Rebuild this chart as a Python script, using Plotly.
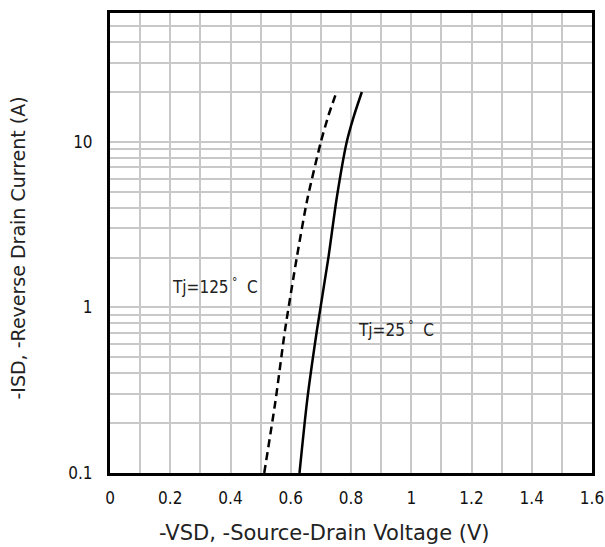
import plotly.graph_objects as go
import numpy as np

# 25 C curve (solid)
i_25 = [0.1, 0.27, 0.73, 2.0, 4.5, 10, 14.4, 20]
v_25 = [0.629, 0.654, 0.687, 0.725, 0.752, 0.786, 0.810, 0.836]
# 125 C curve (dashed)
i_125 = [0.1, 0.27, 0.73, 2.0, 4.5, 10, 14.4, 20]
v_125 = [0.512, 0.549, 0.581, 0.620, 0.655, 0.700, 0.725, 0.752]

x_ticks = [0, 0.2, 0.4, 0.6, 0.8, 1.0, 1.2, 1.4, 1.6]
x_tick_text = ["0", "0.2", "0.4", "0.6", "0.8", "1", "1.2", "1.4", "1.6"]
y_ticks = [0.1, 1, 10]
y_tick_text = ["0.1", "1", "10"]

label_125 = "Tj=125<sup> °</sup>  C"
label_25 = "Tj=25<sup> °</sup>  C"
x_title = "-VSD, -Source-Drain Voltage (V)"
y_title = "-ISD, -Reverse Drain Current (A)"

narrow = "DejaVu Sans Condensed, Liberation Sans Narrow, Arial Narrow, sans-serif"
wide = "DejaVu Sans, Liberation Sans, Arial, sans-serif"

fig = go.Figure()
fig.add_trace(go.Scatter(x=v_125, y=i_125, mode="lines",
                         line=dict(color="black", width=2.5, dash="8px,5px", shape="spline", smoothing=0.6),
                         showlegend=False))
fig.add_trace(go.Scatter(x=v_25, y=i_25, mode="lines",
                         line=dict(color="black", width=2.5, shape="spline", smoothing=0.6),
                         showlegend=False))

fig.add_annotation(x=0.349, y=np.log10(1.35), text=label_125, showarrow=False,
                   font=dict(family=narrow, size=17, color="#222"))
fig.add_annotation(x=0.948, y=np.log10(0.739), text=label_25, showarrow=False,
                   font=dict(family=narrow, size=17, color="#222"))

# axis titles (placed as in the reference, slightly off-centre)
fig.add_annotation(x=0.446, y=-0.131, xref="paper", yref="paper", text=x_title, showarrow=False,
                   xanchor="center", yanchor="middle",
                   font=dict(family=wide, size=21, color="#222"))
fig.add_annotation(x=-0.191, y=0.49, xref="paper", yref="paper", text=y_title, showarrow=False,
                   xanchor="center", yanchor="middle", textangle=-90,
                   font=dict(family=wide, size=19, color="#222"))

fig.update_layout(
    width=605, height=547,
    margin=dict(l=110, r=13, t=13, b=74),
    paper_bgcolor="white", plot_bgcolor="white",
)
fig.update_xaxes(
    range=[0, 1.6], tickvals=x_ticks, ticktext=x_tick_text,
    showgrid=True, gridcolor="#c8c8c8", gridwidth=1.5,
    minor=dict(dtick=0.1, showgrid=True, gridcolor="#c8c8c8", gridwidth=1.5),
    showline=True, linecolor="black", linewidth=3, mirror=True,
    ticks="", ticklabelstandoff=8, automargin=False,
    tickfont=dict(family=narrow, size=17, color="#111"),
    zeroline=False,
)
fig.update_yaxes(
    type="log", range=[np.log10(0.1), np.log10(60)], tickvals=y_ticks, ticktext=y_tick_text,
    showgrid=True, gridcolor="#c8c8c8", gridwidth=1.5,
    minor=dict(dtick="D1", showgrid=True, gridcolor="#c8c8c8", gridwidth=1.5),
    showline=True, linecolor="black", linewidth=3, mirror=True,
    ticks="", ticklabelstandoff=11, automargin=False,
    tickfont=dict(family=narrow, size=17, color="#111"),
    zeroline=False,
)

fig.write_html("out.html", config={"displayModeBar": False},
               post_script="document.body.style.margin='0';")
